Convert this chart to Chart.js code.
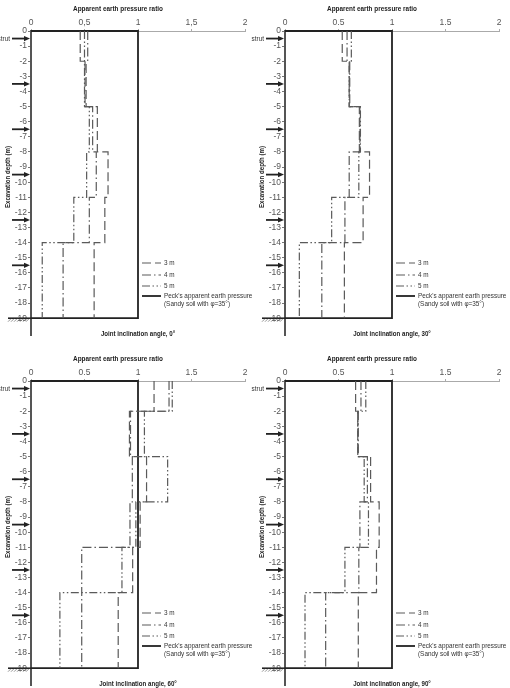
<!DOCTYPE html>
<html>
<head>
<meta charset="utf-8">
<script src="https://cdn.jsdelivr.net/npm/chart.js@4.4.0/dist/chart.umd.min.js"></script>
<style>
  body { margin: 0; background: #fff; width: 510px; height: 688px; overflow: hidden; position: relative; }
  canvas { position: absolute; }
</style>
</head>
<body>
<canvas id="c0" width="265" height="342" style="left:-10px;top:0px"></canvas>
<canvas id="c30" width="265" height="342" style="left:244px;top:0px"></canvas>
<canvas id="c60" width="265" height="342" style="left:-10px;top:350px"></canvas>
<canvas id="c90" width="265" height="342" style="left:244px;top:350px"></canvas>
<script>
// depth breaks of the step profiles (m)
const depthBreaks = [0, -2, -5, -8, -11, -14, -19];
// strut levels (m)
const strutDepths = [-0.5, -3.5, -6.5, -9.5, -12.5, -15.5];
const xTicks = [0, 0.5, 1, 1.5, 2];
const yTicks = [0, -1, -2, -3, -4, -5, -6, -7, -8, -9, -10, -11, -12, -13, -14, -15, -16, -17, -18, -19];
const angles = [0, 30, 60, 90];

// apparent earth pressure ratio per segment, strut spacing 3 m / 4 m / 5 m
const r3m_0 = [0.46, 0.515, 0.62, 0.72, 0.69, 0.59];
const r4m_0 = [0.53, 0.505, 0.576, 0.61, 0.545, 0.30];
const r5m_0 = [0.50, 0.50, 0.545, 0.52, 0.40, 0.105];

const r3m_30 = [0.535, 0.60, 0.695, 0.79, 0.73, 0.555];
const r4m_30 = [0.58, 0.605, 0.70, 0.60, 0.56, 0.344];
const r5m_30 = [0.62, 0.60, 0.705, 0.69, 0.436, 0.134];

const r3m_60 = [1.15, 0.92, 1.08, 1.02, 0.95, 0.815];
const r4m_60 = [1.29, 0.93, 0.947, 0.925, 0.474, 0.474];
const r5m_60 = [1.32, 1.06, 1.277, 0.98, 0.85, 0.27];

const r3m_90 = [0.66, 0.68, 0.80, 0.88, 0.855, 0.685];
const r4m_90 = [0.71, 0.685, 0.77, 0.70, 0.69, 0.38];
const r5m_90 = [0.755, 0.68, 0.74, 0.78, 0.56, 0.187];

// Peck's apparent pressure (normalised = 1)
const peckX = [0, 1, 1, 0];
const peckY = [0, 0, -19, -19];

const dash3 = [9, 4];
const dash4 = [9, 3, 1.5, 3];
const dash5 = [8, 2.5, 1.5, 2.5, 1.5, 2.5];

function steps(vals) {
  const pts = [];
  vals.forEach((v, i) => {
    pts.push({ x: v, y: depthBreaks[i] });
    pts.push({ x: v, y: depthBreaks[i + 1] });
  });
  return pts;
}

function txt(ctx, t, x, y, font, align, sx, rot) {
  ctx.save();
  ctx.translate(x, y);
  if (rot) ctx.rotate(rot);
  ctx.scale(sx, 1);
  ctx.font = font;
  ctx.textAlign = align;
  ctx.textBaseline = 'middle';
  ctx.fillText(t, 0, 0);
  ctx.restore();
}

const deco = {
  id: 'deco',
  afterDraw(chart, args, opts) {
    const ctx = chart.ctx;
    const a = chart.chartArea;
    const xs = chart.scales.x, ys = chart.scales.y;
    const L = a.left, T = a.top;
    ctx.save();
    ctx.fillStyle = '#222';
    ctx.strokeStyle = '#222';

    txt(ctx, 'Apparent earth pressure ratio', L + 87, T - 22, 'bold 8px "Liberation Sans"', 'center', 0.8);
    txt(ctx, 'Joint inclination angle, ' + opts.angle + '\u00b0', xs.getPixelForValue(1), T + 303,
        'bold 7.5px "Liberation Sans"', 'center', 0.82);
    txt(ctx, 'Excavation depth (m)', L - 23, T + 146, 'bold 7.5px "Liberation Sans"', 'center', 0.82, -Math.PI / 2);

    // strut arrows
    strutDepths.forEach((d, i) => {
      const py = ys.getPixelForValue(d);
      ctx.lineWidth = 1.8;
      ctx.beginPath();
      ctx.moveTo(L - 19, py);
      ctx.lineTo(L - 5, py);
      ctx.stroke();
      ctx.beginPath();
      ctx.moveTo(L - 1, py);
      ctx.lineTo(L - 7, py - 2.6);
      ctx.lineTo(L - 7, py + 2.6);
      ctx.closePath();
      ctx.fill();
      if (i === 0) {
        ctx.fillStyle = '#333';
        txt(ctx, 'strut', L - 21, py, '7.5px "Liberation Sans"', 'right', 0.85);
        ctx.fillStyle = '#222';
      }
    });

    // ground level at the base
    const gy = ys.getPixelForValue(-19);
    ctx.lineWidth = 1.6;
    ctx.beginPath();
    ctx.moveTo(L - 23, gy);
    ctx.lineTo(L, gy);
    ctx.stroke();
    ctx.lineWidth = 0.7;
    ctx.strokeStyle = '#666';
    for (let hx = L - 23; hx < L - 2; hx += 3) {
      ctx.beginPath();
      ctx.moveTo(hx, gy + 3.5);
      ctx.lineTo(hx + 3, gy + 0.5);
      ctx.stroke();
    }

    // legend
    const lx = L + 111;
    const items = chart.data.datasets;
    const ly = [T + 232, T + 244, T + 255, T + 265];
    items.forEach((ds, i) => {
      ctx.strokeStyle = ds.borderColor;
      ctx.lineWidth = ds.borderWidth;
      ctx.setLineDash(ds.borderDash || []);
      ctx.beginPath();
      ctx.moveTo(lx, ly[i]);
      ctx.lineTo(lx + 19, ly[i]);
      ctx.stroke();
      ctx.setLineDash([]);
      ctx.fillStyle = '#333';
      txt(ctx, ds.label, lx + 22, ly[i], '7.5px "Liberation Sans"', 'left', 0.85);
    });
    txt(ctx, '(Sandy soil with \u03c6=35\u00b0)', lx + 22, T + 273, '7.5px "Liberation Sans"', 'left', 0.85);
    ctx.restore();
  }
};

function makeChart(id, angle, s3, s4, s5, dec) {
  const common = { showLine: true, pointRadius: 0, fill: false, borderColor: '#5a5a5a', borderWidth: 1.2, clip: 4 };
  new Chart(document.getElementById(id), {
    type: 'scatter',
    data: {
      datasets: [
        Object.assign({ label: '3 m', data: steps(s3), borderDash: dash3 }, common),
        Object.assign({ label: '4 m', data: steps(s4), borderDash: dash4 }, common),
        Object.assign({ label: '5 m', data: steps(s5), borderDash: dash5 }, common),
        { label: "Peck's apparent earth pressure", data: peckX.map((v, i) => ({ x: v, y: peckY[i] })),
          showLine: true, pointRadius: 0, fill: false, borderColor: '#222', borderWidth: 1.8, clip: 4 }
      ]
    },
    options: {
      responsive: false,
      animation: false,
      layout: { padding: { left: 0, right: 10, top: 0, bottom: 0 } },
      plugins: { legend: { display: false }, tooltip: { enabled: false }, deco: { angle: angle } },
      scales: {
        x: {
          type: 'linear', position: 'top', min: 0, max: 2,
          afterBuildTicks: s => { s.ticks = xTicks.map(v => ({ value: v })); },
          afterFit: s => { s.height = 31; },
          ticks: {
            color: '#555', font: { family: 'Liberation Sans', size: 8.5 }, padding: 1,
            maxRotation: 0,
            callback: v => dec === ',' ? String(v).replace('.', ',') : String(v)
          },
          grid: { drawOnChartArea: false, tickLength: 2, color: '#aaa' },
          border: { color: '#aaa', width: 1 }
        },
        y: {
          type: 'linear', min: -20.17, max: 0,
          afterBuildTicks: s => { s.ticks = yTicks.map(v => ({ value: v })); },
          afterFit: s => { s.width = 41; },
          ticks: { color: '#555', font: { family: 'Liberation Sans', size: 8.5 }, padding: 1 },
          grid: { drawOnChartArea: false, tickLength: 3, color: '#777' },
          border: { color: '#555', width: 2 }
        }
      }
    },
    plugins: [deco]
  });
}

makeChart('c0', angles[0], r3m_0, r4m_0, r5m_0, ',');
makeChart('c30', angles[1], r3m_30, r4m_30, r5m_30, '.');
makeChart('c60', angles[2], r3m_60, r4m_60, r5m_60, '.');
makeChart('c90', angles[3], r3m_90, r4m_90, r5m_90, '.');
</script>
</body>
</html>
